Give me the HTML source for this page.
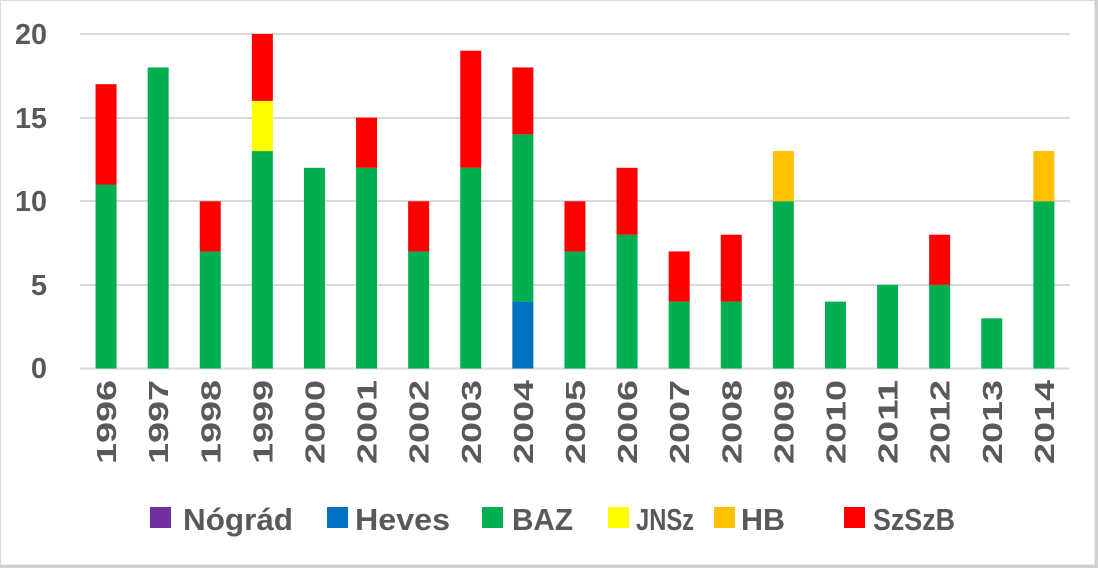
<!DOCTYPE html>
<html><head><meta charset="utf-8"><style>
html,body{margin:0;padding:0;background:#fff;}
svg{display:block;}
text{font-family:"Liberation Sans",sans-serif;font-weight:bold;fill:#595959;}
</style></head><body>
<svg width="1098" height="568" xmlns="http://www.w3.org/2000/svg">
<rect x="0.5" y="0.5" width="1097" height="567" fill="#fff" stroke="#d9d9d9" stroke-width="1"/>
<line x1="1096" y1="0" x2="1096" y2="568" stroke="#d0d0d0" stroke-width="3"/>
<line x1="0" y1="566" x2="1098" y2="566" stroke="#d0d0d0" stroke-width="3"/>
<g stroke="#d9d9d9" stroke-width="2">
<line x1="80" y1="34" x2="1070" y2="34"/>
<line x1="80" y1="118" x2="1070" y2="118"/>
<line x1="80" y1="201" x2="1070" y2="201"/>
<line x1="80" y1="285" x2="1070" y2="285"/>
<line x1="80" y1="368.5" x2="1070" y2="368.5"/>
</g>
<g font-size="29" text-anchor="end">
<text x="47" y="44" textLength="32" lengthAdjust="spacingAndGlyphs">20</text>
<text x="47" y="128" textLength="32" lengthAdjust="spacingAndGlyphs">15</text>
<text x="47" y="211" textLength="32" lengthAdjust="spacingAndGlyphs">10</text>
<text x="47" y="295">5</text>
<text x="47" y="378">0</text>
</g>
<g id="bars"></g>
<g id="labels" font-size="28"></g>
<g font-size="31">
<rect x="150" y="507" width="21" height="21" fill="#7030a0"/><text x="183" y="530" textLength="110" lengthAdjust="spacingAndGlyphs">Nógrád</text>
<rect x="327" y="507" width="21" height="21" fill="#0070c0"/><text x="355" y="530" textLength="95" lengthAdjust="spacingAndGlyphs">Heves</text>
<rect x="482" y="507" width="21" height="21" fill="#00b050"/><text x="512" y="530" textLength="61" lengthAdjust="spacingAndGlyphs">BAZ</text>
<rect x="608" y="507" width="21" height="21" fill="#ffff00"/><text x="636" y="530" textLength="58" lengthAdjust="spacingAndGlyphs">JNSz</text>
<rect x="714" y="507" width="21" height="21" fill="#ffc000"/><text x="741" y="530" textLength="44" lengthAdjust="spacingAndGlyphs">HB</text>
<rect x="844" y="507" width="21" height="21" fill="#ff0000"/><text x="873" y="530" textLength="82" lengthAdjust="spacingAndGlyphs">SzSzB</text>
</g>
<script>
var data=[[1996,0,11,0,0,6],[1997,0,18,0,0,0],[1998,0,7,0,0,3],[1999,0,13,3,0,4],[2000,0,12,0,0,0],[2001,0,12,0,0,3],[2002,0,7,0,0,3],[2003,0,12,0,0,7],[2004,4,10,0,0,4],[2005,0,7,0,0,3],[2006,0,8,0,0,4],[2007,0,4,0,0,3],[2008,0,4,0,0,4],[2009,0,10,0,3,0],[2010,0,4,0,0,0],[2011,0,5,0,0,0],[2012,0,5,0,0,3],[2013,0,3,0,0,0],[2014,0,10,0,3,0]];
var cols=["#0070c0","#00b050","#ffff00","#ffc000","#ff0000"];
var NS="http://www.w3.org/2000/svg",b=document.getElementById("bars"),l=document.getElementById("labels");
var s=16.725,z=368.5,w=52.1;
data.forEach(function(d,i){var cx=80+w*(i+0.5),acc=0;
for(var k=1;k<6;k++){if(!d[k])continue;var r=document.createElementNS(NS,"rect");
var y1=z-(acc+d[k])*s;r.setAttribute("x",cx-10.5);r.setAttribute("width",21);r.setAttribute("y",y1);r.setAttribute("height",d[k]*s);r.setAttribute("fill",cols[k-1]);b.appendChild(r);acc+=d[k];}
var t=document.createElementNS(NS,"text");t.setAttribute("transform","translate("+(cx+10)+",380) rotate(-90)");t.setAttribute("text-anchor","end");t.setAttribute("textLength","84");t.setAttribute("lengthAdjust","spacingAndGlyphs");t.textContent=d[0];l.appendChild(t);});
</script>
</svg>
</body></html>
